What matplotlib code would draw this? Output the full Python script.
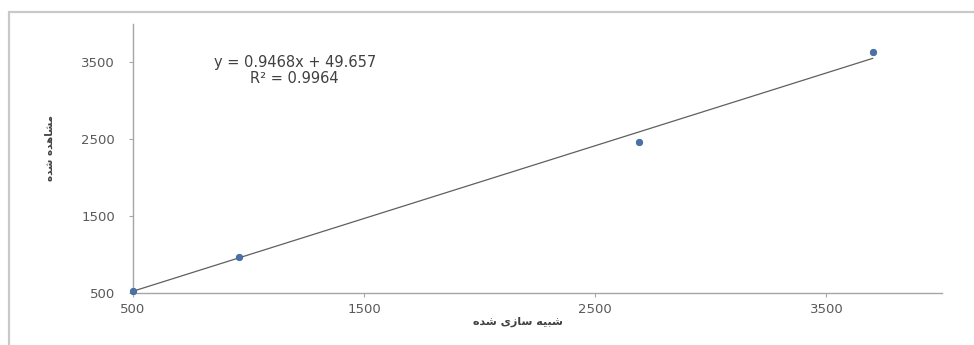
import numpy as np
import matplotlib.pyplot as plt
from matplotlib.patches import Rectangle

# simulated vs observed values
simulated = [500, 960, 2690, 3700]
observed = [520, 965, 2470, 3630]

# linear trendline coefficients
slope = 0.9468
intercept = 49.657
r2 = 0.9964

x_ticks = [500, 1500, 2500, 3500]
y_ticks = [500, 1500, 2500, 3500]

# Persian labels, written in visual (left-to-right) presentation forms
x_label = "\uFEE9\uFEAA\uFEB7 \uFEEF\uFEAF\uFE8E\uFEB3 \uFEEA\uFEF4\uFE92\uFEB7"   # شبیه سازی شده
y_label = "\uFEE9\uFEAA\uFEB7 \uFEE9\uFEAA\uFEEB\uFE8E\uFEB8\uFEE3"               # مشاهده شده

fig = plt.figure(figsize=(9.74, 3.45), dpi=100)
fig.patch.set_facecolor('white')

# outer chart frame
fig.patches.append(Rectangle((9 / 974, -0.2), 1.2, 0.2 + 1 - 12 / 345,
                             transform=fig.transFigure, fill=False,
                             edgecolor='#c9c9c9', lw=1.6))

ax = fig.add_axes([133 / 974, 1 - 293 / 345, (942 - 133) / 974, (293 - 24) / 345])

x_line = np.array([min(simulated), max(simulated)])
ax.plot(x_line, slope * x_line + intercept, color='#5f5f5f', lw=0.9, zorder=2)
ax.scatter(simulated, observed, s=22, color='#4a72a8', edgecolor='#3b5f8f',
           linewidth=0.5, zorder=3, clip_on=False)

ax.set_xlim(500, 4000)
ax.set_ylim(500, 4000)
ax.set_xticks(x_ticks)
ax.set_yticks(y_ticks)

for s in ['top', 'right']:
    ax.spines[s].set_visible(False)
for s in ['left', 'bottom']:
    ax.spines[s].set_color('#a6a6a6')
    ax.spines[s].set_linewidth(1.0)

ax.tick_params(axis='both', colors='#a6a6a6', labelcolor='#595959',
               labelsize=9.5, length=3, width=0.8, direction='out')
ax.tick_params(axis='y', pad=10)
ax.tick_params(axis='x', pad=4)

ax.text(0.20, 0.827, f"y = {slope}x + {intercept}\nR\u00b2 = {r2}",
        transform=ax.transAxes, ha='center', va='center', fontsize=10.5,
        color='#404040', linespacing=1.05)

fig.text(518 / 974, 1 - 322 / 345, x_label, ha='center', va='center',
         fontsize=8, fontweight='bold', color='#404040', family='DejaVu Sans')
fig.text(50 / 974, 1 - 148 / 345, y_label, ha='center', va='center',
         rotation=90, fontsize=7.5, fontweight='bold', color='#404040',
         family='DejaVu Sans')

fig.savefig('out.png', dpi=100, facecolor='white')
